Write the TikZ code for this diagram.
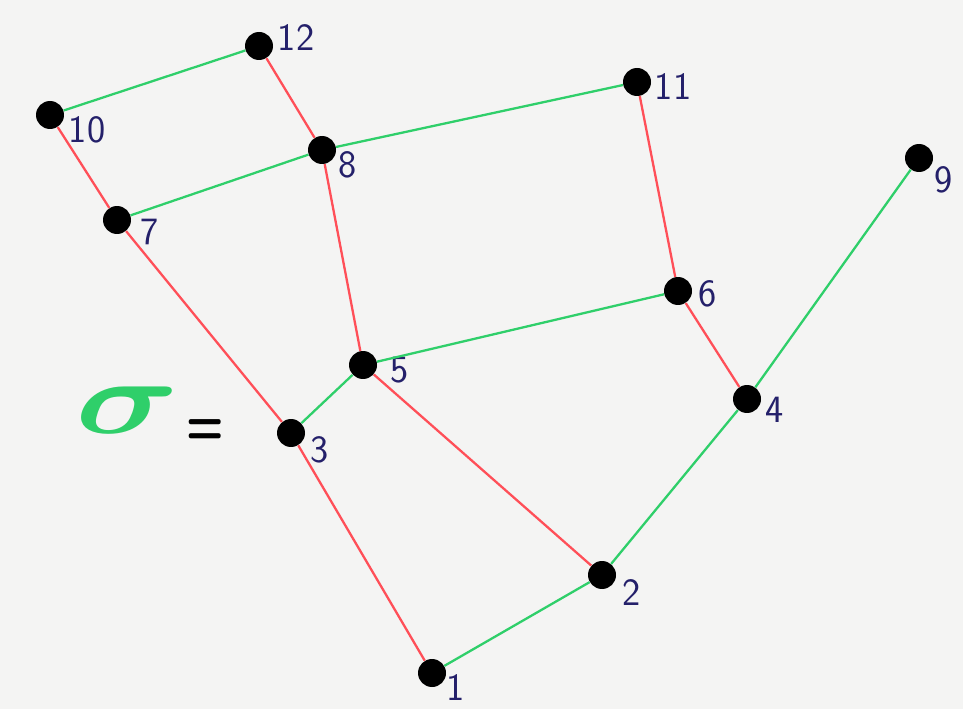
\documentclass[tikz,border=0pt]{standalone}
\usepackage{amsmath, bm}
\usepackage[dvipsnames]{xcolor}
\usepackage{tikz}
\definecolor{penred}{HTML}{FF4F58}
\definecolor{pengreen}{HTML}{2FCF6A}
\definecolor{pennavy}{HTML}{24206A}
\definecolor{paper}{HTML}{F4F4F3}

\begin{document}
\begin{tikzpicture}[x=0.02cm, y=-0.02cm, every node/.style={font=\sffamily}]
\tikzset{v/.style={circle, fill=black, minimum size=5.6mm, inner sep=0},
  num/.style={text=pennavy, font=\sffamily\fontsize{22}{22}\selectfont, inner sep=0},
  redge/.style={draw=penred, line width=1.3pt},
  gedge/.style={draw=pengreen, line width=1.3pt}}
\fill[paper] (0,0) rectangle (963,709);
% --- vertices and their numbers ---
\foreach \n/\x/\y/\dx/\dy in {1/432/673/24/15, 2/602/575/30/18, 3/291/433/29/17,
  4/747/399/28/11, 5/363/365/37/5, 6/678/291/30/3, 7/117/220/33/12,
  8/322/150/26/15, 9/919/158/25/22, 10/50/115/37/15, 11/637/82/36/5, 12/259/46/37/-8}
{
  \node[v] (v\n) at (\x,\y) {};
  \node[num] (l\n) at ([shift={(\dx,\dy)}]v\n) {\n};
}
% --- red edges ---
\foreach \a/\b in {10/7, 12/8, 8/5, 7/3, 3/1, 5/2, 11/6, 6/4}
  \draw[redge] (v\a) -- (v\b);
% --- green edges ---
\foreach \a/\b in {10/12, 7/8, 8/11, 5/6, 3/5, 1/2, 2/4, 4/9}
  \draw[gedge] (v\a) -- (v\b);
% --- sigma ---
\node[text=pengreen, font=\Huge, xscale=3.3, yscale=2.4] (sig) at (128,410) {$\bm{\sigma}$};
\node[font=\Huge\sffamily\bfseries, yscale=1.4] (eq) at (205,432) {=};
\end{tikzpicture}
\end{document}
